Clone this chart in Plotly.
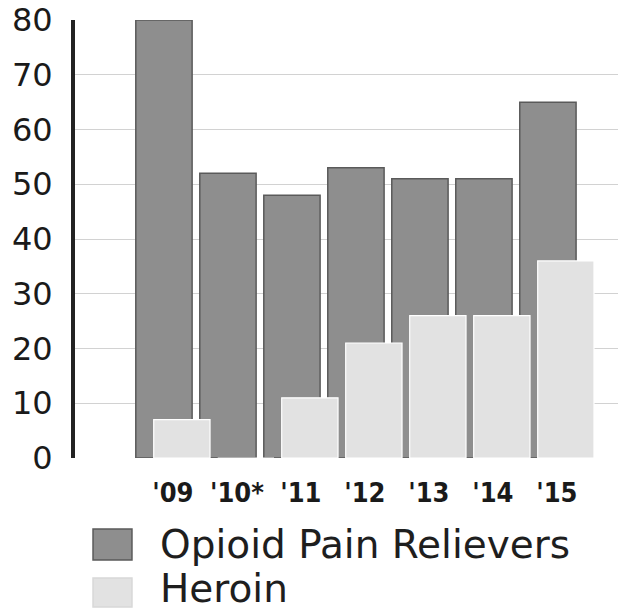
import plotly.graph_objects as go

years = ["'09", "'10*", "'11", "'12", "'13", "'14", "'15"]
opioid = [80, 52, 48, 53, 51, 51, 65]
heroin = [7, 0, 11, 21, 26, 26, 36]
series_names = ["Opioid Pain Relievers", "Heroin"]
y_ticks = [0, 10, 20, 30, 40, 50, 60, 70, 80]

OPIOID_FILL = "#8e8e8e"
OPIOID_EDGE = "#5a5a5a"
HEROIN_FILL = "#e2e2e2"

fig = go.Figure()
fig.add_trace(go.Bar(
    x=years, y=opioid, name=series_names[0],
    width=0.88, offset=-0.58,
    marker=dict(color=OPIOID_FILL, line=dict(color=OPIOID_EDGE, width=1.5)),
    showlegend=False,
))
fig.add_trace(go.Bar(
    x=years, y=heroin, name=series_names[1],
    width=0.88, offset=-0.30,
    marker=dict(color=HEROIN_FILL, line=dict(color="white", width=1.2)),
    showlegend=False,
))

# page body has an 8px default margin, so the figure is sized to fit the window
fig.update_layout(
    width=618, height=605,
    margin=dict(l=67, r=0, t=12, b=155, autoexpand=False),
    barmode="overlay",
    paper_bgcolor="white", plot_bgcolor="white",
    xaxis=dict(
        type="category", range=[-1.53, 7.08], automargin=False,
        showgrid=False, showline=False, zeroline=False,
        ticks="", ticklabelstandoff=16,
        tickfont=dict(family="Liberation Sans Narrow, DejaVu Sans Condensed, sans-serif",
                      size=27, color="#1a1a1a", weight="bold"),
    ),
    yaxis=dict(
        range=[0, 80], tickvals=y_ticks, automargin=False,
        showgrid=True, gridcolor="#d2d2d2", gridwidth=1.2,
        showline=True, linecolor="#222222", linewidth=4,
        zeroline=False, ticks="", ticklabelstandoff=12,
        ticklabeloverflow="allow",
        tickfont=dict(family="DejaVu Sans, sans-serif", size=32, color="#1a1a1a"),
    ),
)

# legend drawn manually with large swatches
legend_rows = [(-0.1621, -0.2329, -0.1986, OPIOID_FILL, OPIOID_EDGE),
               (-0.2740, -0.3400, -0.2990, HEROIN_FILL, "#d8d8d8")]
for name, (y0, y1, yc, fill, edge) in zip(series_names, legend_rows):
    fig.add_shape(type="rect", xref="paper", yref="paper",
                  x0=0.0327, x1=0.1034, y0=y0, y1=y1,
                  fillcolor=fill, line=dict(color=edge, width=1.5))
    fig.add_annotation(xref="paper", yref="paper", x=0.150, y=yc,
                       xanchor="left", yanchor="middle", showarrow=False,
                       text=name,
                       font=dict(family="DejaVu Sans, sans-serif", size=39, color="#1e1e1e"))

fig.write_html("out.html")
